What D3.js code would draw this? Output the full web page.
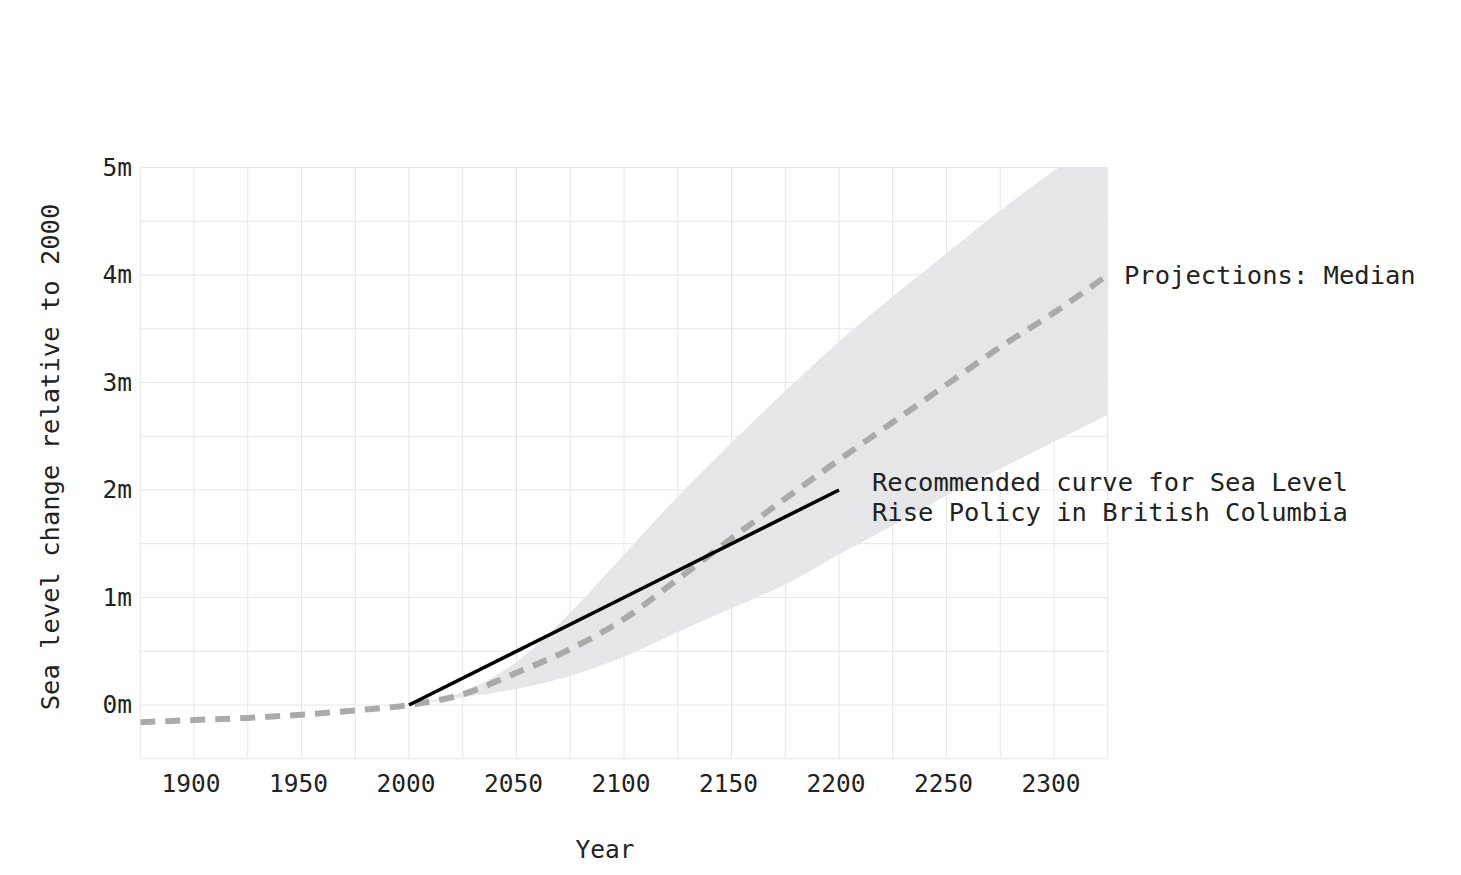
<!DOCTYPE html>
<html><head><meta charset="utf-8">
<script src="https://cdn.jsdelivr.net/npm/d3@7"></script>
<style>body{margin:0;background:#fff}svg text{font-family:"DejaVu Sans Mono",monospace;fill:#222}</style>
</head><body><svg id="c" width="1461" height="875"></svg>
<script>
const histYears = [1875, 1900, 1925, 1950, 1975, 2000];
const histValues = [-0.16, -0.14, -0.12, -0.09, -0.05, 0];
const projYears = [2000, 2025, 2050, 2075, 2100, 2125, 2150, 2175, 2200, 2225, 2250, 2275, 2300, 2325];
const projMedian = [0, 0.1, 0.3, 0.52, 0.8, 1.17, 1.55, 1.92, 2.28, 2.63, 2.98, 3.33, 3.65, 4.0];
const projLower = [0, 0.07, 0.15, 0.27, 0.45, 0.68, 0.9, 1.12, 1.4, 1.67, 1.95, 2.2, 2.45, 2.7];
const projUpper = [0, 0.12, 0.4, 0.86, 1.4, 1.94, 2.44, 2.92, 3.38, 3.8, 4.2, 4.6, 4.97, 5.3];
const recYears = [2000, 2100, 2200];
const recValues = [0, 1, 2];
const xTicks = [1900, 1950, 2000, 2050, 2100, 2150, 2200, 2250, 2300];
const yTicks = [0, 1, 2, 3, 4, 5];

const svg = d3.select("#c");
const x = d3.scaleLinear().domain([1875, 2325]).range([140.25, 1107.75]);
const y = d3.scaleLinear().domain([-0.5, 5]).range([758.75, 167.5]);

svg.append("defs").append("clipPath").attr("id","clip").append("rect")
  .attr("x",x(1875)).attr("y",y(5)).attr("width",x(2325)-x(1875)).attr("height",y(-0.5)-y(5));

const g = svg.append("g");
d3.range(1875, 2326, 25).forEach(v => g.append("line").attr("x1",x(v)).attr("x2",x(v)).attr("y1",y(-0.5)).attr("y2",y(5)).attr("stroke","#e6e6e6").attr("stroke-width",1));
d3.range(-0.5, 5.01, 0.5).forEach(v => g.append("line").attr("y1",y(v)).attr("y2",y(v)).attr("x1",x(1875)).attr("x2",x(2325)).attr("stroke","#e6e6e6").attr("stroke-width",1));

const proj = projYears.map((yr,i)=>({yr, lo:projLower[i], hi:projUpper[i], med:projMedian[i]}));
const plot = svg.append("g").attr("clip-path","url(#clip)");
plot.append("path").datum(proj)
  .attr("d", d3.area().x(d=>x(d.yr)).y0(d=>y(d.lo)).y1(d=>y(d.hi)).curve(d3.curveCatmullRom))
  .attr("fill","#e6e6e8");

const hist = histYears.map((yr,i)=>({yr, v:histValues[i]}));
const med = proj.map(d=>({yr:d.yr, v:d.med}));
const lineGen = d3.line().x(d=>x(d.yr)).y(d=>y(d.v)).curve(d3.curveMonotoneX);
plot.append("path").datum(hist.concat(med.slice(1))).attr("d", lineGen)
  .attr("fill","none").attr("stroke","#aaaaaa").attr("stroke-width",6).attr("stroke-dasharray","15,10");

plot.append("path").datum(recYears.map((yr,i)=>({yr, v:recValues[i]})))
  .attr("d", d3.line().x(d=>x(d.yr)).y(d=>y(d.v)))
  .attr("fill","none").attr("stroke","#000").attr("stroke-width",3.5);

const xa = svg.append("g");
xTicks.forEach(t => xa.append("text").attr("x",x(t)-3).attr("y",792).attr("text-anchor","middle").attr("font-size",24.5).text(t));
yTicks.forEach(t => xa.append("text").attr("x",132).attr("y",y(t)+8).attr("text-anchor","end").attr("font-size",24.5).text(t+"m"));

svg.append("text").attr("x",605).attr("y",858).attr("text-anchor","middle").attr("font-size",24.5).text("Year");
svg.append("text").attr("transform","translate(59,457) rotate(-90)").attr("text-anchor","middle").attr("font-size",25.5).text("Sea level change relative to 2000");

svg.append("text").attr("x",1124).attr("y",284).attr("font-size",25.5).text("Projections: Median");
svg.append("text").attr("x",872).attr("y",491).attr("font-size",25.5).text("Recommended curve for Sea Level");
svg.append("text").attr("x",872).attr("y",521).attr("font-size",25.5).text("Rise Policy in British Columbia");
</script></body></html>
